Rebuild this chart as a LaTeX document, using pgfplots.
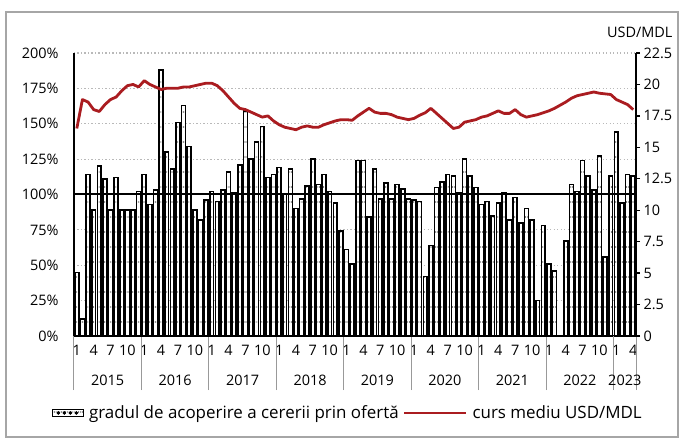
\documentclass[border=0pt]{standalone}
\usepackage{fontspec}
\setmainfont{Open Sans}
\usepackage{pgfplots}
\usepackage{pgfplotstable}
\pgfplotsset{compat=1.18}
\usetikzlibrary{patterns}
\definecolor{myred}{RGB}{170,28,32}
\definecolor{gridgray}{RGB}{185,185,185}
\pgfdeclarepatternformonly{bardots}{\pgfqpoint{-1bp}{-1bp}}{\pgfqpoint{1bp}{1bp}}{\pgfqpoint{1.87bp}{15bp}}{%
  \pgfpathcircle{\pgfqpoint{0bp}{0bp}}{0.55bp}\pgfusepath{fill}}
\pgfplotstableread{
i cov usd
0 45 16.5
1 12 18.8
2 114 18.6
3 89 18.0
4 120 17.85
5 111 18.4
6 89 18.8
7 112 19.0
8 89 19.5
9 89 19.9
10 89 20.0
11 102 19.8
12 114 20.3
13 93 20.0
14 103 19.8
15 188 19.6
16 130 19.7
17 118 19.7
18 151 19.7
19 163 19.8
20 134 19.8
21 89 19.9
22 82 20.0
23 96 20.1
24 102 20.1
25 95 19.9
26 103 19.5
27 116 19.0
28 101 18.5
29 121 18.1
30 159 18.0
31 125 17.8
32 137 17.6
33 148 17.4
34 112 17.5
35 114 17.1
36 119 16.8
37 100 16.6
38 118 16.5
39 90 16.4
40 97 16.6
41 106 16.7
42 125 16.6
43 107 16.6
44 114 16.8
45 102 16.95
46 94 17.1
47 74 17.2
48 61 17.2
49 51 17.15
50 124 17.5
51 124 17.8
52 84 18.1
53 118 17.8
54 97 17.7
55 108 17.7
56 97 17.6
57 107 17.4
58 104 17.3
59 97 17.2
60 96 17.3
61 95 17.55
62 42 17.75
63 64 18.1
64 105 17.7
65 109 17.3
66 114 16.9
67 113 16.5
68 101 16.6
69 125 17.0
70 113 17.1
71 105 17.2
72 93 17.4
73 95 17.5
74 85 17.7
75 94 17.9
76 101 17.7
77 82 17.7
78 98 18.0
79 80 17.6
80 90 17.4
81 82 17.5
82 25 17.6
83 78 17.75
84 51 17.9
85 46 18.1
86 nan 18.35
87 67 18.6
88 107 18.9
89 102 19.1
90 124 19.2
91 113 19.3
92 103 19.4
93 127 19.3
94 56 19.25
95 113 19.2
96 144 18.8
97 94 18.6
98 114 18.4
99 113 18.0
}\datatable
\begin{document}
\begin{tikzpicture}
\pgfplotsset{
  every axis/.append style={font=\fontsize{14.5}{17}\selectfont},
  /pgf/number format/assume math mode=true,
}
\begin{axis}[
  name=main,
  scale only axis, width=562bp, height=283bp,
  xmin=-0.5, xmax=99.5, ymin=0, ymax=200,
  axis x line*=bottom, axis y line*=left,
  axis line style={black, line width=1.3bp},
  xtick={0,3,...,99},
  xticklabel={\pgfmathparse{int(mod(\tick,12)+1)}\pgfmathresult},
  xticklabel style={yshift=-6bp},
  major tick length=0pt,
  extra x ticks={-0.5,11.5,23.5,35.5,47.5,59.5,71.5,83.5,95.5,99.5},
  extra x tick labels={},
  extra x tick style={major tick length=54bp, tick align=outside, tick style={gray!80, line width=1bp}, grid=none},
  ytick={0,25,50,75,100,125,150,175,200},
  yticklabel={\pgfmathprintnumber{\tick}\%},
  yticklabel style={xshift=-12bp},
  ymajorgrids, grid style={gridgray, line width=1.1bp, dash pattern=on 1.1bp off 2.4bp},
  legend style={at={(0.487,-0.272)}, anchor=center, draw=none, legend columns=2,
    font=\fontsize{17}{20}\selectfont,
    /tikz/every odd column/.append style={column sep=3bp},
    /tikz/every even column/.append style={column sep=2bp}},
  clip=false,
]
\addplot[ybar, bar width=3.9bp, draw=black, line width=1.6bp, fill=white,
  postaction={pattern=bardots},
  legend image code/.code={
    \draw[black, line width=1.4bp, fill=white] (0bp,-3.5bp) rectangle (31bp,3.5bp);
    \foreach \xx in {6,12,18,24} {\fill[black] (\xx bp,0bp) circle (0.6bp);}
  }] table[x=i, y=cov] {\datatable};
\addlegendentry{gradul de acoperire a cererii prin ofertă}
\addplot[black, line width=2bp, forget plot] coordinates {(-0.5,100) (99.5,100)};
\addlegendimage{legend image code/.code={\draw[myred, line width=2.8bp] (0bp,0bp) -- (62bp,0bp);}}
\addlegendentry{curs mediu USD/MDL}
\node[font=\fontsize{14.5}{17}\selectfont] at (axis cs:5.5,0) [yshift=-44bp] {2015};
\node[font=\fontsize{14.5}{17}\selectfont] at (axis cs:17.5,0) [yshift=-44bp] {2016};
\node[font=\fontsize{14.5}{17}\selectfont] at (axis cs:29.5,0) [yshift=-44bp] {2017};
\node[font=\fontsize{14.5}{17}\selectfont] at (axis cs:41.5,0) [yshift=-44bp] {2018};
\node[font=\fontsize{14.5}{17}\selectfont] at (axis cs:53.5,0) [yshift=-44bp] {2019};
\node[font=\fontsize{14.5}{17}\selectfont] at (axis cs:65.5,0) [yshift=-44bp] {2020};
\node[font=\fontsize{14.5}{17}\selectfont] at (axis cs:77.5,0) [yshift=-44bp] {2021};
\node[font=\fontsize{14.5}{17}\selectfont] at (axis cs:89.5,0) [yshift=-44bp] {2022};
\node[font=\fontsize{14.5}{17}\selectfont] at (axis cs:97.5,0) [yshift=-44bp] {2023};
\coordinate (O) at (rel axis cs:0,0);
\end{axis}
\begin{axis}[
  scale only axis, width=562bp, height=283bp,
  xmin=-0.5, xmax=99.5, ymin=0, ymax=22.5,
  axis y line*=right, axis x line=none,
  axis line style={black, line width=1.3bp},
  ytick={0,2.5,5,7.5,10,12.5,15,17.5,20,22.5},
  yticklabel style={/pgf/number format/.cd, fixed, precision=1},
  tick align=outside, major tick length=4bp,
  tick style={black, line width=1.3bp},
  clip=false,
]
\addplot[myred, line width=2.8bp, line join=round] table[x=i, y=usd] {\datatable};
\node[anchor=east, font=\fontsize{14.5}{17}\selectfont] at (rel axis cs:1,1) [xshift=40bp, yshift=21bp] {USD/MDL};
\end{axis}
\draw[shift={(O)}, gray!70, line width=1.3bp] (-68bp,-101bp) rectangle (604bp,324bp);
\pgfresetboundingbox
\path[shift={(O)}] (-74bp,-106bp) rectangle (609bp,336bp);
\end{tikzpicture}
\end{document}
